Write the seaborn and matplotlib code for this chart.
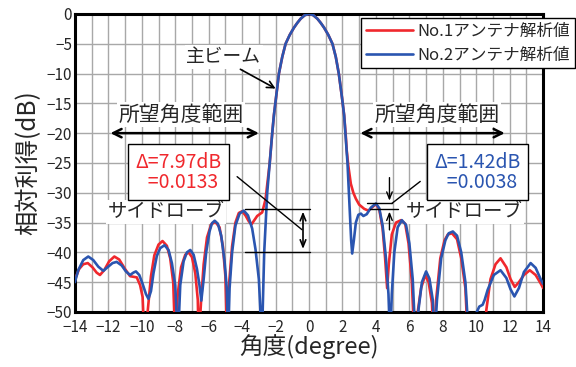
import numpy as np
import pandas as pd
import matplotlib
matplotlib.use("Agg")
import matplotlib.pyplot as plt
import seaborn as sns

sns.set_style("white")
plt.rcParams['font.family'] = ['Noto Sans CJK JP', 'DejaVu Sans']
plt.rcParams['axes.unicode_minus'] = True

# No.1 antenna (red)
ang1 = [-14.0, -13.75, -13.5, -13.23, -12.95, -12.7, -12.5, -12.25, -11.95, -11.64, -11.35, -11.0,
        -10.7, -10.5, -10.3, -10.1, -9.95, -9.84, -9.65, -9.45, -9.25, -9.0, -8.76, -8.5, -8.3,
        -8.12, -8.0, -7.85, -7.65, -7.4, -7.2, -7.0, -6.8, -6.65, -6.6, -6.45, -6.3, -6.1, -5.85,
        -5.6, -5.35, -5.15, -5.0, -4.9, -4.8, -4.6, -4.4, -4.2, -4.0, -3.8, -3.6, -3.44, -3.25,
        -3.1, -2.8, -2.6, -2.45, -2.35, -2.2, -2.1, -1.97, -1.8, -1.6, -1.4, -1.15, -0.9, -0.7,
        -0.5, -0.25, 0.0, 0.25, 0.5, 0.7, 0.9, 1.15, 1.4, 1.6, 1.78, 1.97, 2.1, 2.2, 2.25, 2.35,
        2.5, 2.65, 2.8, 3.0, 3.3, 3.55, 3.8, 4.0, 4.2, 4.4, 4.55, 4.67, 4.77, 4.95, 5.2, 5.5,
        5.75, 5.95, 6.15, 6.3, 6.5, 6.7, 6.95, 7.15, 7.35, 7.45, 7.6, 7.85, 8.1, 8.3, 8.55, 8.85,
        9.1, 9.35, 9.5, 10.0, 10.5, 10.6, 10.85, 11.15, 11.45, 11.8, 12.05, 12.3, 12.55, 12.85,
        13.2, 13.55, 13.85, 14.0]
gain1 = [-44.6, -42.8, -42.0, -41.8, -42.5, -43.4, -43.8, -43.0, -41.5, -40.7, -41.2, -42.8,
         -44.0, -44.1, -44.2, -45.5, -47.5, -55, -50, -44, -40.5, -38.7, -38.1, -38.9, -41,
         -45, -55, -47, -42.5, -40.4, -40.0, -40.8, -43.5, -48, -55, -48, -42, -37.5, -35.3,
         -34.9, -35.8, -39, -44, -55, -46, -39, -35, -33.4, -33.1, -33.8, -34.8, -35.3, -34.5,
         -33.9, -33.3, -31.1, -27.5, -25.0, -20.0, -17.0, -14.0, -10.0, -7.2, -5.0, -3.5, -2.3, -1.5,
         -0.8, -0.2, 0.0, -0.2, -0.8, -1.5, -2.3, -3.5, -5.0, -7.2, -10.0, -14.0, -17.0, -20.5, -22.8, -25.5,
         -28.5, -30.0, -31.0, -32.0, -32.7, -33.0, -32.4, -31.9, -32.8, -36.0, -41.0, -46.0, -42.0, -37.0, -35.0, -34.6,
         -35.2, -38.5, -45, -55, -50, -46, -43.8, -45, -48.5, -55, -48, -41, -38, -37.0, -36.8, -37.8,
         -41, -46, -55, -55, -55, -49.7, -44.5, -42, -41.0, -42.5, -44.5, -45.8, -45, -43.8,
         -43.0, -43.8, -45.2, -46.0]

# No.2 antenna (blue)
ang2 = [-14.0, -13.8, -13.5, -13.2, -12.9, -12.6, -12.3, -12.0, -11.75, -11.5, -11.2, -10.95, -10.7,
        -10.5, -10.35, -10.15, -9.95, -9.75, -9.6, -9.45, -9.3, -9.1, -8.9, -8.64, -8.4, -8.2,
        -8.0, -7.84, -7.7, -7.5, -7.3, -7.1, -6.9, -6.7, -6.55, -6.44, -6.3, -6.15, -5.95, -5.8,
        -5.64, -5.45, -5.25, -5.05, -4.92, -4.84, -4.75, -4.6, -4.4, -4.15, -3.9, -3.65, -3.4,
        -3.2, -3.0, -2.82, -2.68, -2.5, -2.35, -2.2, -2.1, -1.97, -1.8, -1.6, -1.4, -1.15, -0.9,
        -0.7, -0.5, -0.25, 0.0, 0.25, 0.5, 0.7, 0.9, 1.15, 1.4, 1.6, 1.78, 1.97, 2.1, 2.2, 2.3,
        2.42, 2.52, 2.58, 2.68, 2.8, 2.95, 3.1, 3.25, 3.45, 3.7, 4.0, 4.2, 4.4, 4.6, 4.75, 4.85,
        4.95, 5.1, 5.3, 5.55, 5.8, 6.0, 6.2, 6.37, 6.55, 6.75, 7.0, 7.2, 7.4, 7.5, 7.65, 7.9,
        8.15, 8.35, 8.6, 8.85, 9.1, 9.35, 9.5, 9.7, 9.95, 10.18, 10.38, 10.5, 10.68, 11.05, 11.45,
        11.8, 12.05, 12.28, 12.55, 12.85, 13.25, 13.55, 13.85, 14.0]
gain2 = [-45.0, -43.0, -41.3, -40.7, -41.3, -42.4, -43.1, -42.4, -41.8, -41.6, -42.2, -43.2, -43.8,
         -43.4, -43.2, -43.8, -45.3, -47.0, -47.8, -46.5, -43.5, -40.6, -39.3, -38.8, -39.6, -41.8,
         -45.5, -55, -45.5, -41.5, -40.0, -39.6, -40.4, -42.8, -45.5, -48.1, -44.5, -40.0, -36.5, -35.1,
         -34.7, -35.2, -37.2, -41.5, -46, -55, -46, -40, -35.5, -33.5, -33.0, -33.8, -36.0,
         -39.5, -44.5, -55, -40, -30, -25, -20, -17, -14, -10, -7.2, -5.0, -3.5, -2.3,
         -1.5, -0.8, -0.2, 0.0, -0.2, -0.8, -1.5, -2.3, -3.5, -5.0, -7.2, -10, -14, -17, -21, -25,
         -32, -38, -40.2, -38, -35, -33.7, -33.5, -33.9, -33.6, -32.5, -31.8, -32.6, -35.5, -41, -47, -55,
         -47, -40, -35.8, -34.6, -35.4, -38.5, -44.5, -55, -49.5, -45, -43.2, -44.4, -48, -55, -48, -41,
         -38, -36.8, -36.5, -37.2, -40, -45, -52, -55, -50.5, -49.1, -48.8, -48.0, -46.3, -43.8, -43.0,
         -44.3, -46.2, -47.4, -46, -43.3, -41.8, -42.6, -44.5, -45.3]

labels = ["No.1アンテナ解析値", "No.2アンテナ解析値"]
colors = ["#f0282d", "#2a55b0"]
xticks = list(range(-14, 15, 2))
yticks = list(range(-50, 1, 5))

fig = plt.figure(figsize=(5.76, 3.67), dpi=100)
ax = fig.add_axes([0.130, 0.150, 0.813, 0.812])

df1 = pd.DataFrame({"x": ang1, "y": gain1})
df2 = pd.DataFrame({"x": ang2, "y": gain2})
sns.lineplot(data=df1, x="x", y="y", color=colors[0], lw=1.9, label=labels[0], ax=ax,
             estimator=None, sort=False, zorder=3)
sns.lineplot(data=df2, x="x", y="y", color=colors[1], lw=1.9, label=labels[1], ax=ax,
             estimator=None, sort=False, zorder=4)

ax.set_xlim(-14, 14)
ax.set_ylim(-50, 0)
ax.set_xticks(xticks)
ax.set_xticklabels([f"−{abs(t)}" if t < 0 else str(t) for t in xticks], fontsize=11)
ax.set_yticks(yticks)
ax.set_yticklabels([f"−{abs(t)}" if t < 0 else str(t) for t in yticks], fontsize=11)
ax.set_xticks(np.arange(-14, 15, 1), minor=True)
ax.grid(True, which="both", color="#a8a8a8", lw=1.0, zorder=0)
ax.tick_params(axis="y", length=0, pad=2)
ax.tick_params(axis="x", length=0, pad=5)
for s in ax.spines.values():
    s.set_linewidth(2.2)
    s.set_color("black")
ax.set_xlabel("角度(degree)", fontsize=17, labelpad=-1)
ax.set_ylabel("相対利得(dB)", fontsize=17.5, labelpad=4)

leg = ax.legend(loc="upper left", bbox_to_anchor=(0.611, 0.987), fontsize=12, frameon=True,
                fancybox=False, edgecolor="black", framealpha=1, borderpad=0.3,
                handlelength=2.8, labelspacing=0.4, borderaxespad=0.0, handletextpad=0.3)
leg.get_frame().set_linewidth(1.0)
leg.set_zorder(10)

tk = dict(ha="center", va="center")
bg = dict(facecolor="white", edgecolor="none", pad=1)
open_arrow = dict(arrowstyle="->,head_length=0.5,head_width=0.25", color="black", lw=1.2)
dbl_arrow = dict(arrowstyle="<->,head_length=0.6,head_width=0.3", color="black", lw=1.8)

# main beam
ax.text(-5.1, -7.2, "主ビーム", fontsize=13.5, bbox=bg, zorder=2.5, **tk)
ax.annotate("", xy=(-1.85, -12.75), xytext=(-4.25, -9.06), arrowprops=open_arrow, zorder=6)

# desired angle ranges
ax.text(-7.66, -16.9, "所望角度範囲", fontsize=15, bbox=bg, zorder=2.5, **tk)
ax.annotate("", xy=(-12.04, -20), xytext=(-2.83, -20), arrowprops=dbl_arrow, zorder=6)
ax.text(7.66, -16.9, "所望角度範囲", fontsize=15, bbox=bg, zorder=2.5, **tk)
ax.annotate("", xy=(2.9, -20), xytext=(11.87, -20), arrowprops=dbl_arrow, zorder=6)

# left side lobe annotation
ax.text(-8.55, -33.2, "サイドローブ", fontsize=14, bbox=bg, zorder=2.5, **tk)
ax.plot([-3.83, 0.05], [-32.7, -32.7], color="black", lw=1.0, zorder=6)
ax.plot([-3.83, 0.05], [-39.9, -39.9], color="black", lw=1.0, zorder=6)
ax.annotate("", xy=(-0.36, -32.7), xytext=(-0.36, -39.9),
            arrowprops=dict(arrowstyle="<->,head_length=0.5,head_width=0.2", color="black", lw=1.2),
            zorder=6)
ax.plot([-4.3, -0.42], [-27.3, -36.2], color="black", lw=1.0, zorder=6)
ax.text(-7.79, -26.6, "Δ=7.97dB\n  =0.0133", fontsize=14, color=colors[0], ha="center", va="center",
        linespacing=0.95, zorder=7,
        bbox=dict(facecolor="white", edgecolor="black", lw=1.0, boxstyle="square,pad=0.38"))

# right side lobe annotation
ax.text(9.3, -33.2, "サイドローブ", fontsize=14, bbox=bg, zorder=2.5, **tk)
ax.plot([3.46, 4.95], [-31.8, -31.8], color="black", lw=1.0, zorder=6)
ax.plot([3.66, 5.33], [-32.7, -32.7], color="black", lw=1.0, zorder=6)
ax.annotate("", xy=(4.81, -31.8), xytext=(4.81, -27.0),
            arrowprops=dict(arrowstyle="->,head_length=0.5,head_width=0.2", color="black", lw=1.0), zorder=6)
ax.annotate("", xy=(4.81, -32.7), xytext=(4.81, -36.7),
            arrowprops=dict(arrowstyle="->,head_length=0.5,head_width=0.2", color="black", lw=1.0), zorder=6)
ax.plot([6.65, 4.95], [-28.1, -31.8], color="black", lw=1.0, zorder=6)
ax.text(10.1, -26.6, "Δ=1.42dB\n  =0.0038", fontsize=14, color=colors[1], ha="center", va="center",
        linespacing=0.95, zorder=7,
        bbox=dict(facecolor="white", edgecolor="black", lw=1.0, boxstyle="square,pad=0.38"))

fig.savefig("out.png", dpi=100)
